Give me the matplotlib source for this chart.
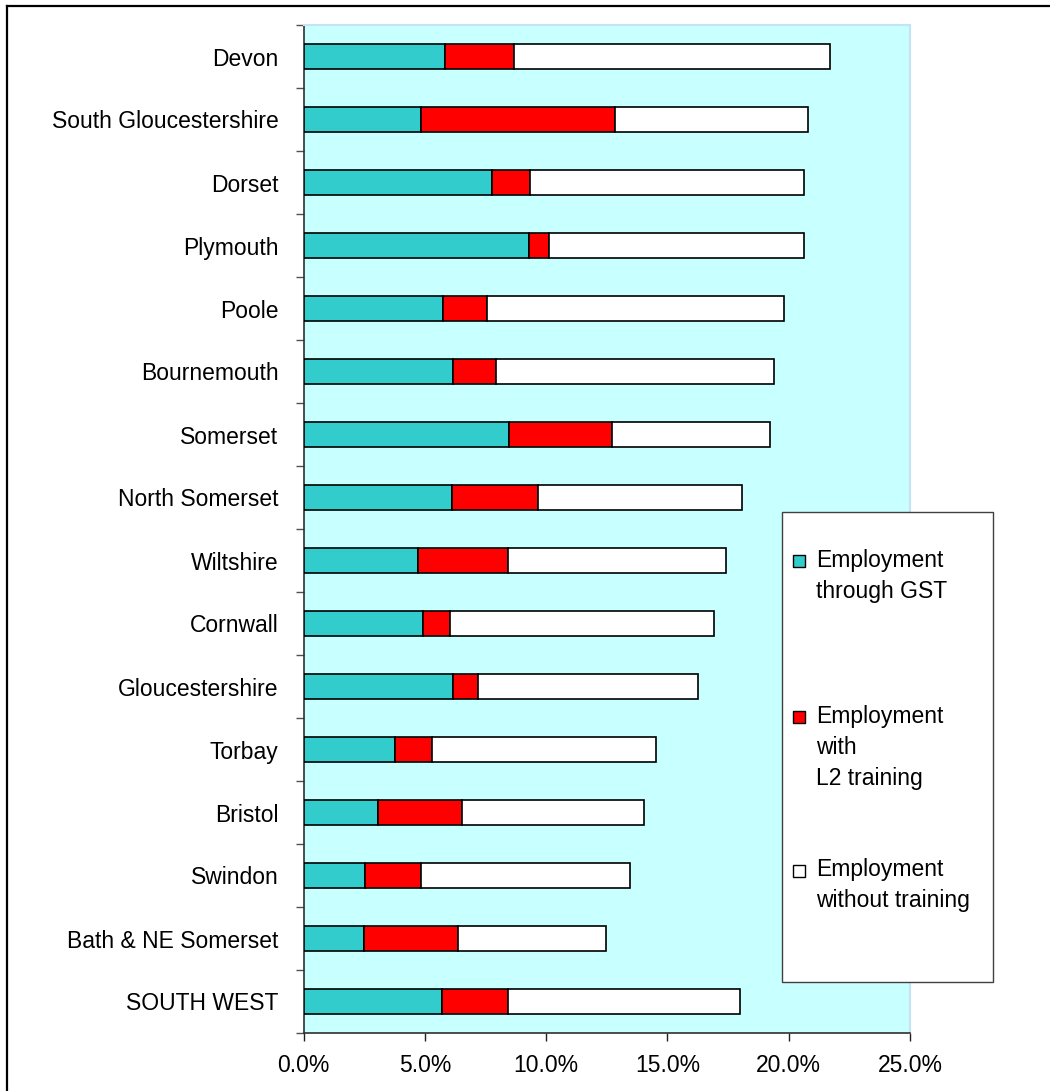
import matplotlib.pyplot as plt
from matplotlib.patches import Rectangle
from matplotlib.lines import Line2D
from matplotlib.ticker import PercentFormatter, FixedLocator
import numpy as np

plt.rcParams["font.family"] = ["Liberation Sans", "DejaVu Sans"]
plt.rcParams["font.size"] = 16.5

areas = [
    "Devon", "South Gloucestershire", "Dorset", "Plymouth", "Poole",
    "Bournemouth", "Somerset", "North Somerset", "Wiltshire", "Cornwall",
    "Gloucestershire", "Torbay", "Bristol", "Swindon", "Bath & NE Somerset",
    "SOUTH WEST",
]
# shares of leavers, in percent
via_gst = [5.83, 4.84, 7.76, 9.31, 5.76, 6.17, 8.48, 6.11, 4.72, 4.94,
           6.17, 3.78, 3.06, 2.55, 2.48, 5.70]
with_l2 = [2.85, 8.01, 1.56, 0.82, 1.82, 1.75, 4.22, 3.55, 3.70, 1.10,
           1.01, 1.51, 3.46, 2.29, 3.87, 2.72]
no_training = [13.02, 7.93, 11.30, 10.49, 12.23, 11.47, 6.51, 8.42, 9.00, 10.87,
               9.07, 9.23, 7.52, 8.62, 6.11, 9.57]

series = [
    ("Employment\nthrough GST", via_gst, "#33cccc"),
    ("Employment\nwith\nL2 training", with_l2, "#ff0000"),
    ("Employment\nwithout training", no_training, "#ffffff"),
]

W, H = 1050, 1091
fig = plt.figure(figsize=(W / 100, H / 100), dpi=100)
ax = fig.add_axes([303.5 / W, 1 - 1033 / H, (910 - 303.5) / W, (1033 - 25) / H])
ax.set_facecolor("#c8ffff")

y = np.arange(len(areas))
left = np.zeros(len(areas))
for name, vals, col in series:
    ax.barh(y, vals, left=left, height=0.4, color=col,
            edgecolor="black", linewidth=1.2, zorder=3)
    left += np.array(vals)

ax.set_xlim(0, 25)
ax.set_ylim(len(areas) - 0.5, -0.5)
ax.xaxis.set_major_locator(FixedLocator(np.arange(0, 26, 5)))
ax.xaxis.set_major_formatter(PercentFormatter(xmax=100, decimals=1))
ax.tick_params(axis="x", direction="out", length=6, width=1, color="#202020", pad=9)

# category boundaries carry the ticks, centres carry the names
ax.yaxis.set_major_locator(FixedLocator(np.arange(-0.5, len(areas), 1)))
ax.yaxis.set_minor_locator(FixedLocator(y))
ax.set_yticklabels([], minor=False)
ax.set_yticklabels(areas, minor=True)
ax.tick_params(axis="y", which="major", direction="out", length=6, width=1, color="#505050")
ax.tick_params(axis="y", which="minor", length=0, pad=18)
for lbl in ax.get_yticklabels(minor=True):
    lbl.set_verticalalignment("center_baseline")

for s in ("top", "right"):
    ax.spines[s].set_color("#c4e4f4")
    ax.spines[s].set_linewidth(1.5)
ax.spines["left"].set_color("#303030")
ax.spines["bottom"].set_color("#303030")
for s in ("left", "bottom"):
    ax.spines[s].set_linewidth(1.2)

# chart border (clipped on the right and bottom)
fx0, fy0 = 7 / W, 1 - 5.5 / H
fig.add_artist(Line2D([fx0, fx0], [0, fy0], color="black", lw=1.6, transform=fig.transFigure))
fig.add_artist(Line2D([fx0, 1], [fy0, fy0], color="black", lw=1.6, transform=fig.transFigure))

# legend box
lx0, lx1, ly0, ly1 = 781.7, 993.3, 512.3, 981.7
fig.add_artist(Rectangle((lx0 / W, 1 - ly1 / H), (lx1 - lx0) / W, (ly1 - ly0) / H,
                         transform=fig.transFigure, facecolor="white",
                         edgecolor="#404040", linewidth=1.0, zorder=5))
line_step = 31.3
first_baselines = [566.7, 722.7, 876.0]
for (name, vals, col), base in zip(series, first_baselines):
    fig.add_artist(Rectangle((793 / W, 1 - (base + 0.5) / H), 12 / W, 12 / H,
                             transform=fig.transFigure, facecolor=col,
                             edgecolor="black", linewidth=1.0, zorder=6))
    # multi-line text anchors on its last baseline
    last = base + line_step * name.count("\n")
    fig.text(816.5 / W, 1 - last / H, name, ha="left", va="baseline",
             linespacing=1.45, zorder=7)

fig.savefig("out.png", dpi=100)
